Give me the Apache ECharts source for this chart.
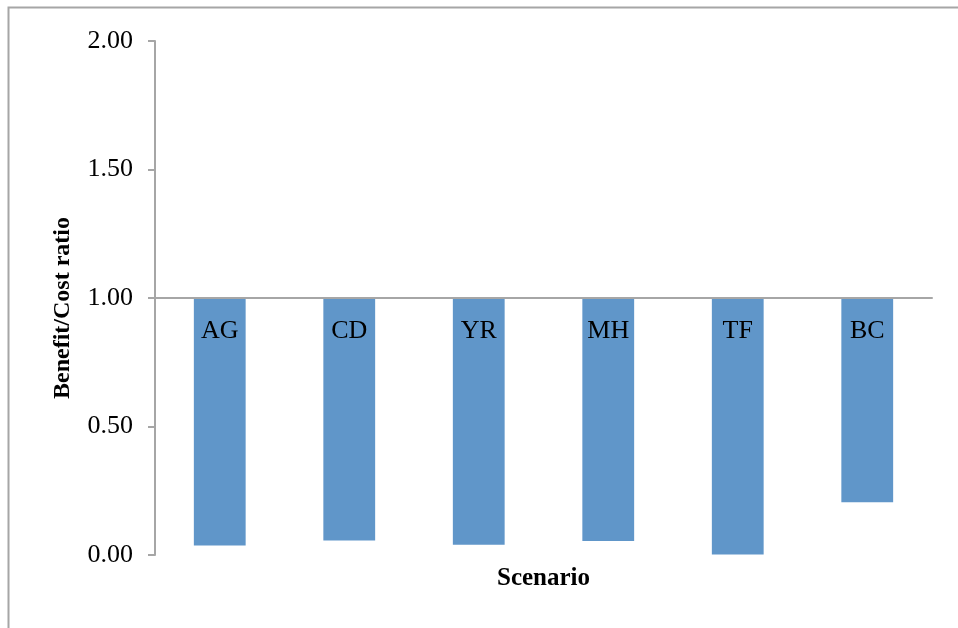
<!DOCTYPE html>
<html>
<head>
<meta charset="utf-8">
<script src="https://cdn.jsdelivr.net/npm/echarts@6/dist/echarts.min.js"></script>
<style>
  html, body { margin: 0; padding: 0; background: #ffffff; }
  #chart { width: 958px; height: 628px; }
</style>
</head>
<body>
<div id="chart"></div>
<script>
// Scenario benefit/cost ratios; the horizontal axis crosses at 1.00
const scenarios = ['AG', 'CD', 'YR', 'MH', 'TF', 'BC'];
const ratios = [0.037, 0.056, 0.040, 0.054, 0.002, 0.205];
const yTicks = { min: 0, max: 2, interval: 0.5 };
const crossAt = 1.0;

const serif = '"Liberation Serif", "Times New Roman", serif';
const axisGrey = '#a6a6a6';
const barBlue = '#6096C9';

const chart = echarts.init(document.getElementById('chart'));

const gridTop = 41, gridBottom = 73;
const plotHeight = 628 - gridTop - gridBottom;
// pixel offset from the top edge down to the crossing value
const crossOffset = -plotHeight * (yTicks.max - crossAt) / (yTicks.max - yTicks.min);

chart.setOption({
  animation: false,
  backgroundColor: '#ffffff',
  graphic: [{
    type: 'rect',
    left: 6, top: 5,
    shape: { width: 1000, height: 700 },
    style: { fill: 'none', stroke: axisGrey, lineWidth: 2 },
    silent: true
  }],
  grid: { left: 155, right: 26, top: gridTop, bottom: gridBottom },
  xAxis: [{
    type: 'category',
    data: scenarios,
    position: 'top',
    offset: crossOffset,
    z: 10,
    axisLine: { show: true, lineStyle: { color: axisGrey, width: 2 } },
    axisTick: { show: false },
    axisLabel: {
      inside: true, margin: 20,
      fontFamily: serif, fontSize: 26, color: '#000000'
    },
    splitLine: { show: false }
  }, {
    type: 'category',
    data: scenarios,
    position: 'bottom',
    axisLine: { show: false },
    axisTick: { show: false },
    axisLabel: { show: false },
    name: 'Scenario',
    nameLocation: 'middle',
    nameGap: 11,
    nameTextStyle: {
      fontFamily: serif, fontSize: 25, fontWeight: 'bold', color: '#000000',
      verticalAlign: 'top'
    }
  }],
  yAxis: {
    type: 'value',
    min: yTicks.min, max: yTicks.max, interval: yTicks.interval,
    axisLine: { show: true, lineStyle: { color: axisGrey, width: 2 } },
    axisTick: { show: true, length: 7, lineStyle: { color: axisGrey, width: 2 } },
    splitLine: { show: false },
    axisLabel: {
      margin: 22,
      fontFamily: serif, fontSize: 26, color: '#000000',
      formatter: v => v.toFixed(2)
    },
    name: 'Benefit/Cost ratio',
    nameLocation: 'middle',
    nameGap: 80,
    nameTextStyle: {
      fontFamily: serif, fontSize: 24, fontWeight: 'bold', color: '#000000',
      padding: [0, 20, 0, 0]
    }
  },
  series: [{
    type: 'custom',
    xAxisIndex: 0,
    data: ratios.map((v, i) => [i, v]),
    encode: { x: 0, y: 1 },
    renderItem: function (params, api) {
      const idx = api.value(0);
      const val = api.value(1);
      const from = api.coord([idx, crossAt]);
      const to = api.coord([idx, val]);
      const bandWidth = api.size([1, 0])[0];
      const w = bandWidth * 0.4;
      const y0 = Math.min(from[1], to[1]);
      const h = Math.abs(to[1] - from[1]);
      return {
        type: 'rect',
        shape: { x: from[0] - w / 2, y: y0, width: w, height: h },
        style: { fill: barBlue }
      };
    },
    z: 1
  }]
});
</script>
</body>
</html>
